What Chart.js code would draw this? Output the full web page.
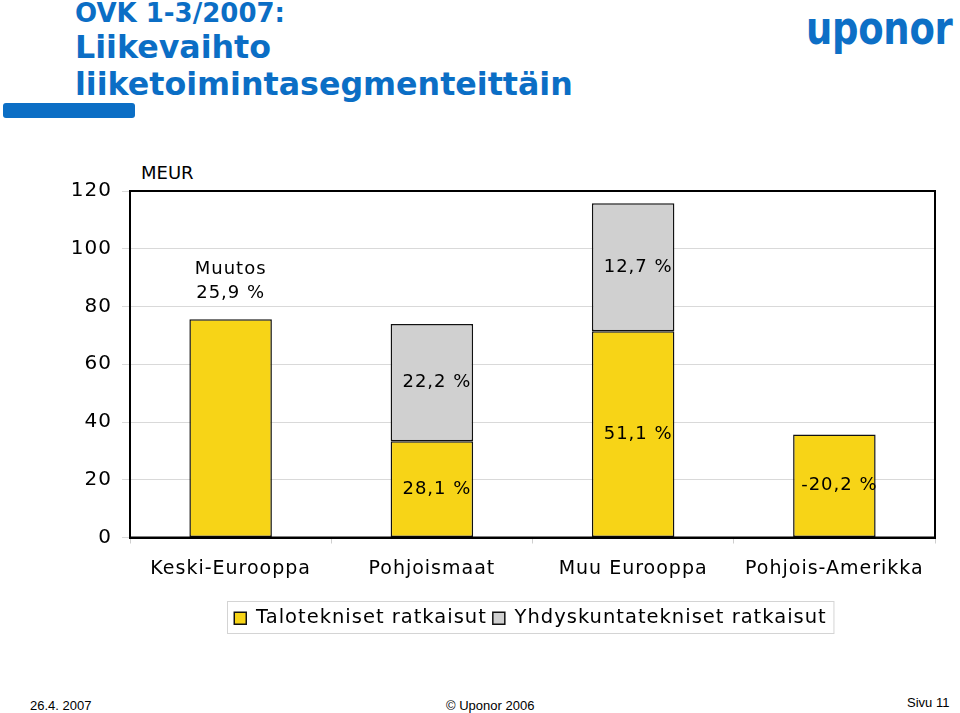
<!DOCTYPE html>
<html>
<head>
<meta charset="utf-8">
<script src="https://cdn.jsdelivr.net/npm/chart.js@4.4.1/dist/chart.umd.min.js"></script>
<style>
  body { margin: 0; background: #fff; width: 960px; height: 713px; position: relative; overflow: hidden; font-family: "DejaVu Sans", Verdana, sans-serif; }
  .t { position: absolute; color: #0b6ec5; font-weight: bold; white-space: nowrap; }
  #bar { position: absolute; left: 3px; top: 103px; width: 132px; height: 15px; background: #0b6ec5; border-radius: 3px; }
  #logo { position: absolute; left: 806px; top: 1px; color: #0d6fc6; font-weight: bold; font-size: 37px; transform: scaleY(1.25); transform-origin: 0 0; letter-spacing: -0.3px; }
  #meur { position: absolute; left: 141px; top: 162px; font-size: 18px; }
  .f { position: absolute; font-family: "Liberation Sans", Arial, sans-serif; font-size: 13px; top: 698px; }
  #wrap { position: absolute; left: 0; top: 150px; width: 960px; height: 492px; }
</style>
</head>
<body>
<div class="t" style="left:75px;top:-2px;font-size:26px;">OVK 1-3/2007:</div>
<div class="t" style="left:75px;top:29px;font-size:31.7px;">Liikevaihto</div>
<div class="t" style="left:75px;top:66px;font-size:31.7px;">liiketoimintasegmenteittäin</div>
<div id="bar"></div>
<div id="logo">uponor</div>
<div id="meur">MEUR</div>
<div id="wrap"><canvas id="myChart"></canvas></div>
<div class="f" style="left:30px;">26.4. 2007</div>
<div class="f" style="left:446px;">© Uponor 2006</div>
<div class="f" style="left:907px;top:695px;">Sivu 11</div>
<script>
// Data
var categories = ['Keski-Eurooppa', 'Pohjoismaat', 'Muu Eurooppa', 'Pohjois-Amerikka'];
var seriesNames = ['Talotekniset ratkaisut', 'Yhdyskuntatekniset ratkaisut'];
var talo = [75.6, 33.3, 71.4, 35.7];
var yhdys = [null, 40.6, 44.4, null];
var taloLabels = ['', '28,1 %', '51,1 %', '-20,2 %'];
var yhdysLabels = ['', '22,2 %', '12,7 %', ''];
var topLabel = ['Muutos', '25,9 %'];
var yTicks = [0, 20, 40, 60, 80, 100, 120];

var FONT = '"DejaVu Sans", Verdana, sans-serif';

// wider letter spacing (Verdana look)
var spacing = {
  id: 'spacing',
  beforeLayout: function(chart) { chart.ctx.letterSpacing = '1px'; },
  beforeDraw: function(chart) { chart.ctx.letterSpacing = '1px'; },
  afterLayout: function(chart) {
    // move legend right, as in the slide
    chart.legend.left += 63;
    chart.legend.right += 63;
  }
};

// labels inside bars + frame + legend border
var extras = {
  id: 'extras',
  afterDatasetsDraw: function(chart) {
    var c = chart.ctx;
    var lbls = [taloLabels, yhdysLabels];
    c.save();
    c.fillStyle = '#000';
    c.font = '18px ' + FONT;
    c.textAlign = 'center';
    c.textBaseline = 'middle';
    for (var d = 0; d < 2; d++) {
      var meta = chart.getDatasetMeta(d);
      meta.data.forEach(function(bar, j) {
        if (lbls[d][j]) {
          c.fillText(lbls[d][j], bar.x + 5, (bar.y + bar.base) / 2);
        }
      });
    }
    var b0 = chart.getDatasetMeta(0).data[0];
    c.fillText(topLabel[0], b0.x, b0.y - 50);
    c.fillText(topLabel[1], b0.x, b0.y - 26);
    // plot frame
    var a = chart.chartArea;
    c.strokeStyle = '#000';
    c.lineWidth = 2;
    c.strokeRect(a.left, a.top, a.right - a.left, a.bottom - a.top);
    c.restore();
  },
  afterDraw: function(chart) {
    var c = chart.ctx;
    var lg = chart.legend;
    var w = lg.lineWidths[0];
    var x0 = (lg.left + 6 + lg.right - w) / 2;
    c.save();
    c.strokeStyle = '#d4d4d4';
    c.lineWidth = 1;
    c.strokeRect(Math.round(x0) - 6.5, 451.5, w + 8, 32);
    c.restore();
  }
};

var ctx = document.getElementById('myChart').getContext('2d');
var chart = new Chart(ctx, {
  type: 'bar',
  data: {
    labels: categories,
    datasets: [{
      label: seriesNames[0],
      data: talo,
      backgroundColor: '#f7d417',
      borderColor: '#111',
      borderWidth: 1.5,
      borderSkipped: false,
      barPercentage: 0.41,
      categoryPercentage: 1
    }, {
      label: seriesNames[1],
      data: yhdys,
      backgroundColor: '#d0d0d0',
      borderColor: '#111',
      borderWidth: 1.5,
      borderSkipped: false,
      barPercentage: 0.41,
      categoryPercentage: 1
    }]
  },
  plugins: [spacing, extras],
  options: {
    responsive: true,
    maintainAspectRatio: false,
    animation: false,
    layout: { padding: { top: 41, right: 25, left: 0, bottom: 4 } },
    plugins: {
      tooltip: { enabled: false },
      legend: {
        position: 'bottom',
        labels: {
          color: '#000',
          font: { family: FONT, size: 19.5 },
          boxWidth: 12,
          boxHeight: 12,
          padding: 6
        }
      }
    },
    scales: {
      x: {
        stacked: true,
        grid: { drawOnChartArea: false, drawTicks: true, tickLength: 6, color: '#cfcfcf' },
        border: { color: '#000', width: 2 },
        ticks: { color: '#000', font: { family: FONT, size: 19 }, padding: 14, maxRotation: 0 },
        afterFit: function(s) { s.height = 65; }
      },
      y: {
        stacked: true,
        min: 0,
        max: 120,
        afterBuildTicks: function(s) { s.ticks = yTicks.map(function(v) { return { value: v }; }); },
        grid: { color: '#d9d9d9', tickLength: 8 },
        border: { color: '#000', width: 2 },
        ticks: { color: '#000', font: { family: FONT, size: 20 }, padding: 10 },
        afterFit: function(s) { s.width = 130; }
      }
    }
  }
});
</script>
</body>
</html>
